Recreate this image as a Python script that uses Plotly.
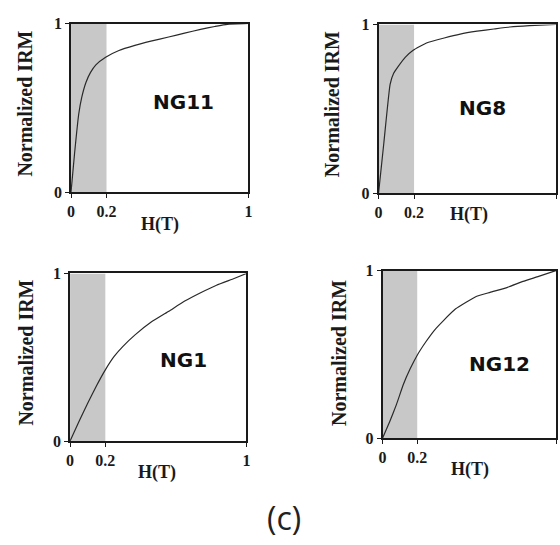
import plotly.graph_objects as go

W, H = 560, 545

# ---- data ----
sample_names = ["NG11", "NG8", "NG1", "NG12"]

h_ng11 = [0, 0.02, 0.043, 0.06, 0.084, 0.11, 0.14, 0.195, 0.27, 0.36, 0.45, 0.55, 0.64, 0.73, 0.81, 0.88, 1.0]
irm_ng11 = [0, 0.23, 0.46, 0.56, 0.65, 0.71, 0.755, 0.80, 0.84, 0.87, 0.895, 0.92, 0.943, 0.965, 0.982, 0.995, 1.0]

h_ng8 = [0, 0.03, 0.065, 0.085, 0.11, 0.15, 0.195, 0.27, 0.37, 0.46, 0.555, 0.65, 0.74, 0.85, 1.0]
irm_ng8 = [0, 0.30, 0.645, 0.71, 0.75, 0.805, 0.847, 0.89, 0.92, 0.943, 0.96, 0.973, 0.985, 0.993, 1.0]

h_ng1 = [0, 0.05, 0.1, 0.15, 0.2, 0.25, 0.3, 0.37, 0.46, 0.56, 0.65, 0.74, 0.83, 0.93, 1.0]
irm_ng1 = [0, 0.115, 0.225, 0.33, 0.425, 0.505, 0.565, 0.635, 0.71, 0.775, 0.835, 0.885, 0.93, 0.97, 1.0]

h_ng12 = [0, 0.04, 0.08, 0.12, 0.16, 0.2, 0.25, 0.3, 0.35, 0.42, 0.54, 0.62, 0.72, 0.81, 0.9, 1.0]
irm_ng12 = [0, 0.095, 0.2, 0.32, 0.415, 0.495, 0.575, 0.645, 0.70, 0.77, 0.845, 0.87, 0.90, 0.935, 0.965, 1.0]

x_tickvals = [0, 0.2, 1]
x_ticktext = ["0", "0.2", "1"]
y_tickvals = [0, 1]
y_ticktext = ["0", "1"]
shade_range = [0, 0.2]

series = [(h_ng11, irm_ng11), (h_ng8, irm_ng8), (h_ng1, irm_ng1), (h_ng12, irm_ng12)]

# ---- layout geometry (pixels) ----
# (left, right, top, bottom)
boxes = [(68, 248, 16, 190), (380, 560, 17, 191), (67, 246, 274, 447), (384, 560, 271, 444)]
label_pos = [(182, 97), (485, 103), (182, 363), (503, 367)]
ytitle_pos = [(21, 99), (333, 99), (22, 356), (340, 356)]
xtitle_pos = [(158, 223), (472, 213), (155, 479), (473, 476)]

def px(x):
    return x / W

def py(y):
    return 1 - y / H

fig = go.Figure()
layout = dict(
    width=W, height=H, margin=dict(l=0, r=0, t=0, b=0),
    paper_bgcolor="white", plot_bgcolor="white", showlegend=False,
    shapes=[], annotations=[],
)

serif_bold = dict(family="Liberation Serif", size=16, color="#1a1a1a", weight="bold")

for i, ((hx, iy), (l, r, t, b)) in enumerate(zip(series, boxes)):
    n = "" if i == 0 else str(i + 1)
    xa, ya = "xaxis" + n, "yaxis" + n
    xr, yr = "x" + n, "y" + n
    fig.add_trace(go.Scatter(x=hx, y=iy, mode="lines", xaxis=xr, yaxis=yr,
                             line=dict(color="#2a2a2a", width=1.2, shape="spline", smoothing=0.4),
                             hoverinfo="skip"))
    layout[xa] = dict(domain=[px(l), min(px(r), 1.0)], range=[0, 1], anchor=yr,
                      showgrid=False, zeroline=False, showline=True, mirror=True,
                      linecolor="#1a1a1a", linewidth=1.5, ticks="outside", ticklen=4,
                      tickcolor="#1a1a1a", tickvals=x_tickvals, ticktext=x_ticktext,
                      tickfont=serif_bold, fixedrange=True)
    layout[ya] = dict(domain=[py(b), py(t)], range=[0, 1], anchor=xr,
                      showgrid=False, zeroline=False, showline=True, mirror=True,
                      linecolor="#1a1a1a", linewidth=1.5, ticks="outside", ticklen=4,
                      tickcolor="#1a1a1a", tickvals=y_tickvals, ticktext=y_ticktext,
                      tickfont=serif_bold, fixedrange=True)
    layout["shapes"].append(dict(type="rect", xref=xr, yref=yr, x0=shade_range[0], x1=shade_range[1],
                                 y0=0, y1=1, fillcolor="#c8c8c8", line=dict(width=0), layer="below"))
    lx, ly = label_pos[i]
    layout["annotations"].append(dict(x=px(lx), y=py(ly), xref="paper", yref="paper", text=sample_names[i],
                                      showarrow=False, xanchor="center", yanchor="middle",
                                      font=dict(family="DejaVu Sans", size=20, color="#111", weight="bold")))
    tx, ty = ytitle_pos[i]
    layout["annotations"].append(dict(x=px(tx), y=py(ty), xref="paper", yref="paper", text="Normalized IRM",
                                      textangle=-90, showarrow=False, xanchor="center", yanchor="middle",
                                      font=dict(family="Liberation Serif", size=20, color="#1a1a1a", weight="bold")))
    hx_, hy_ = xtitle_pos[i]
    layout["annotations"].append(dict(x=px(hx_), y=py(hy_), xref="paper", yref="paper", text="H(T)",
                                      showarrow=False, xanchor="center", yanchor="middle",
                                      font=dict(family="Liberation Serif", size=18, color="#1a1a1a", weight="bold")))

layout["annotations"].append(dict(x=px(284), y=py(526), xref="paper", yref="paper", text="(c)",
                                  showarrow=False, xanchor="center", yanchor="middle",
                                  font=dict(family="Open Sans", size=32, color="#222")))

fig.update_layout(**layout)
fig.write_html("out.html", config={"displayModeBar": False})
